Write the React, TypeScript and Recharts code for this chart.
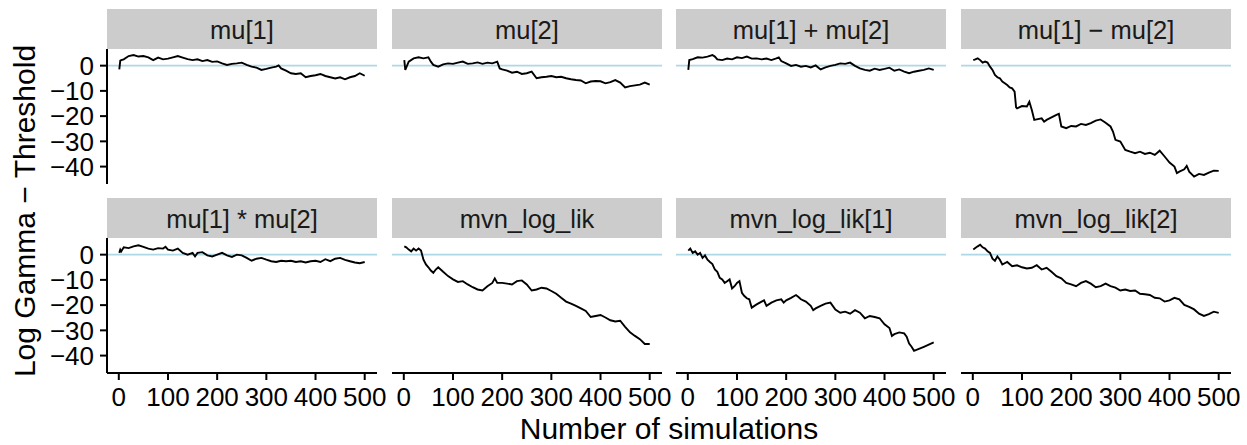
import { LineChart, Line, XAxis, YAxis, ReferenceLine } from 'recharts';

// simulation index, log gamma minus threshold
const mu1: [number, number][] = [
  [1, -1.5], [3, 2.0], [5, 2.2], [10, 2.5], [20, 3.8], [30, 4.2], [40, 3.6], [50, 3.8], [60, 3.3], [70, 2.2],
  [80, 3.2], [90, 2.5], [100, 2.8], [110, 3.3], [120, 3.8], [130, 3.2], [140, 2.6], [150, 2.2], [160, 2.5],
  [170, 1.8], [180, 2.2], [190, 1.5], [200, 1.7], [210, 0.9], [220, 0.3], [230, 0.7], [240, 0.9], [250, 1.2],
  [260, 0.3], [270, -0.4], [280, -0.8], [290, -1.7], [300, -1.3], [310, -0.8], [320, -0.4], [325, 0.1],
  [330, -1.1], [340, -2.0], [350, -3.0], [360, -3.3], [370, -3.0], [380, -4.6], [390, -4.1], [400, -3.8],
  [410, -3.3], [420, -4.1], [430, -4.6], [440, -5.1], [450, -4.6], [460, -5.4], [470, -4.6], [480, -4.1],
  [490, -3.0], [500, -4.0],
];

const mu2: [number, number][] = [
  [1, 2.2], [3, -1.7], [10, 1.6], [20, 2.9], [30, 3.3], [40, 2.9], [50, 3.3], [55, 1.6], [60, 0.3], [70, -0.4],
  [80, 0.5], [90, 0.9], [100, 0.7], [110, 1.2], [120, 1.6], [130, 0.7], [140, 0.9], [150, 1.3], [160, 0.7],
  [170, 1.2], [180, 0.9], [190, 1.6], [195, -1.1], [200, -1.5], [210, -2.0], [220, -2.8], [230, -2.4],
  [240, -3.3], [250, -3.0], [260, -2.4], [270, -5.0], [280, -4.6], [290, -4.4], [300, -4.1], [310, -4.6],
  [320, -4.4], [330, -5.0], [340, -5.4], [350, -5.7], [360, -5.9], [370, -7.0], [380, -6.3], [390, -6.1],
  [400, -6.2], [410, -7.0], [420, -6.5], [430, -5.7], [440, -6.7], [450, -8.6], [460, -8.1], [470, -7.8],
  [480, -7.5], [490, -6.7], [500, -7.5],
];

const muSum: [number, number][] = [
  [1, -1.7], [3, 2.2], [10, 2.6], [20, 3.3], [30, 3.2], [40, 3.6], [50, 4.2], [55, 3.6], [60, 2.5], [70, 2.2],
  [80, 2.8], [90, 2.5], [100, 3.3], [110, 3.0], [120, 3.6], [130, 2.8], [140, 2.9], [150, 2.5], [160, 2.8],
  [170, 2.2], [180, 2.9], [185, 3.3], [190, 1.8], [200, 0.9], [210, -0.1], [220, 0.3], [230, -0.4], [240, -0.1],
  [250, -0.7], [260, 0.1], [270, -1.5], [280, -0.7], [290, -0.1], [300, 0.3], [310, 0.9], [320, 0.7],
  [330, 1.2], [340, -0.1], [350, -1.1], [360, -1.7], [370, -2.0], [380, -1.2], [390, -1.7], [400, -1.3],
  [410, -0.8], [420, -2.0], [430, -1.5], [440, -2.4], [450, -3.0], [460, -2.4], [470, -2.0], [480, -1.7],
  [490, -1.1], [500, -1.7],
];

const muDiff: [number, number][] = [
  [1, 2.2], [5, 2.5], [10, 2.9], [15, 2.2], [20, 1.2], [25, 1.6], [30, 1.2], [35, -0.4], [40, -1.7], [45, -3.7],
  [50, -4.6], [55, -5.0], [60, -6.3], [65, -7.0], [70, -7.7], [75, -8.6], [80, -9.0], [85, -10.3], [88, -16.5],
  [90, -16.9], [100, -16.0], [110, -16.2], [115, -14.3], [120, -17.6], [125, -21.5], [130, -21.3], [140, -20.9],
  [145, -22.2], [150, -21.5], [160, -20.5], [170, -19.5], [175, -19.1], [180, -24.1], [190, -24.8], [200, -23.9],
  [210, -24.1], [220, -23.1], [230, -23.5], [240, -22.8], [250, -21.8], [260, -21.3], [270, -22.6], [280, -24.1],
  [285, -26.1], [290, -29.4], [300, -30.1], [310, -33.4], [320, -34.1], [330, -34.7], [340, -34.1], [350, -35.0],
  [360, -34.5], [370, -35.4], [380, -33.7], [390, -36.0], [400, -38.4], [410, -40.0], [415, -42.6], [420, -42.0],
  [430, -41.1], [435, -39.7], [440, -42.0], [450, -44.0], [460, -42.9], [470, -43.3], [480, -42.4], [490, -41.6],
  [500, -41.7],
];

const muProd: [number, number][] = [
  [1, 0.7], [3, 2.0], [5, 1.3], [10, 2.9], [20, 2.6], [30, 3.3], [40, 3.7], [50, 3.1], [60, 2.4], [70, 2.0],
  [80, 2.6], [90, 2.4], [95, 3.1], [100, 2.0], [110, 1.6], [120, 2.4], [130, 0.7], [140, 0.0], [150, 0.7],
  [155, -0.7], [160, 0.7], [170, 1.0], [180, -0.3], [190, -0.7], [200, 0.0], [210, 0.7], [220, -0.3], [230, -0.9],
  [240, 0.0], [250, -0.3], [260, -1.3], [270, -2.4], [280, -1.6], [290, -1.3], [300, -2.0], [310, -2.6],
  [320, -2.9], [330, -2.4], [340, -2.6], [350, -2.4], [360, -2.9], [370, -2.6], [380, -3.1], [390, -2.6],
  [400, -2.4], [410, -2.9], [420, -1.8], [430, -2.6], [440, -1.6], [450, -1.3], [460, -2.1], [470, -2.6],
  [480, -3.1], [490, -3.4], [500, -2.9],
];

const mvnLogLik: [number, number][] = [
  [1, 3.3], [5, 2.9], [10, 2.0], [15, 1.3], [20, 2.4], [25, 1.6], [30, 2.4], [35, 1.6], [40, -2.0], [45, -3.9],
  [50, -5.0], [55, -6.3], [60, -7.2], [65, -5.9], [70, -5.0], [80, -6.8], [90, -8.5], [100, -9.8], [110, -10.8],
  [120, -10.5], [130, -11.8], [140, -12.9], [150, -13.8], [160, -14.2], [170, -12.5], [180, -11.2], [185, -9.4],
  [190, -11.2], [200, -11.2], [210, -11.5], [220, -11.8], [230, -10.5], [240, -10.2], [250, -11.8], [260, -14.2],
  [270, -13.8], [280, -13.1], [290, -13.4], [300, -14.4], [310, -15.5], [320, -17.1], [330, -18.6], [340, -19.4],
  [350, -20.3], [360, -21.3], [370, -22.3], [380, -24.7], [390, -24.3], [400, -23.9], [410, -24.9], [420, -26.0],
  [430, -26.5], [440, -26.2], [450, -28.6], [460, -30.8], [470, -32.2], [480, -33.5], [490, -35.4], [500, -35.4],
];

const mvnLogLik1: [number, number][] = [
  [1, 1.6], [5, 2.4], [10, 0.7], [15, 1.3], [20, 0.0], [25, 0.7], [30, -1.3], [35, -0.3], [40, -2.0], [45, -2.9],
  [50, -3.7], [55, -5.9], [60, -6.8], [65, -9.2], [70, -9.8], [75, -11.2], [80, -10.5], [85, -9.8], [90, -13.4],
  [95, -12.5], [100, -11.2], [105, -10.5], [110, -15.1], [115, -16.4], [120, -17.3], [125, -17.7], [130, -21.0],
  [140, -19.7], [150, -18.6], [155, -18.1], [160, -20.3], [170, -19.0], [180, -18.1], [190, -17.7], [195, -19.0],
  [200, -18.1], [210, -17.1], [220, -16.0], [225, -16.8], [230, -17.7], [240, -18.6], [250, -20.3], [255, -22.0],
  [260, -21.3], [270, -20.3], [280, -19.4], [290, -19.0], [300, -21.8], [310, -23.0], [320, -22.6], [330, -23.4],
  [340, -22.0], [350, -23.0], [360, -25.2], [370, -24.3], [380, -24.7], [390, -25.2], [400, -27.6], [410, -29.1],
  [415, -32.2], [420, -31.5], [430, -30.8], [440, -31.2], [445, -32.5], [450, -35.2], [455, -36.5], [460, -38.1],
  [480, -36.5], [500, -34.8],
];

const mvnLogLik2: [number, number][] = [
  [1, 2.0], [5, 2.6], [10, 3.3], [15, 3.9], [20, 2.9], [25, 2.4], [30, 1.3], [35, 0.7], [40, -1.6], [45, -2.4],
  [50, -0.7], [55, -2.0], [60, -3.9], [70, -2.9], [80, -4.6], [90, -4.2], [100, -5.0], [110, -5.5], [120, -5.2],
  [130, -4.2], [140, -5.9], [150, -5.2], [160, -6.8], [170, -8.5], [180, -9.4], [190, -11.2], [200, -11.8],
  [210, -12.5], [220, -11.2], [230, -10.5], [240, -11.5], [250, -12.9], [260, -12.5], [270, -11.5], [280, -12.5],
  [290, -13.1], [300, -14.2], [310, -13.8], [320, -14.4], [330, -14.2], [340, -15.5], [350, -15.7], [360, -16.0],
  [370, -17.1], [380, -17.3], [390, -18.6], [400, -18.1], [410, -17.1], [420, -17.7], [430, -19.9], [440, -20.7],
  [450, -21.7], [460, -23.4], [470, -24.3], [480, -23.6], [490, -22.6], [500, -23.1],
];

const panelTitles = [
  'mu[1]', 'mu[2]', 'mu[1] + mu[2]', 'mu[1] − mu[2]',
  'mu[1] * mu[2]', 'mvn_log_lik', 'mvn_log_lik[1]', 'mvn_log_lik[2]',
];
const panelSeries = [mu1, mu2, muSum, muDiff, muProd, mvnLogLik, mvnLogLik1, mvnLogLik2];

const xTicks = [0, 100, 200, 300, 400, 500];
const yTicks = [0, -10, -20, -30, -40];

const W = 1247;
const H = 445;
const colLeft = [107, 392, 676, 961];
const stripTop = [9, 198];
const panelW = 270;
const stripH = 40;
const plotH = 135;
const yAxisW = 107;
const xAxisH = 60;
const padR = 24; // room for the "500" label that hangs past the panel edge
const FONT = '"Liberation Sans", Arial, Helvetica, sans-serif';

const fmt = (v: number) => (v < 0 ? `\u2212${Math.abs(v)}` : `${v}`);

function Panel({ idx }: { idx: number }) {
  const row = Math.floor(idx / 4);
  const col = idx % 4;
  const showY = col === 0;
  const showX = row === 1;
  const data = panelSeries[idx].map(([sim, value]) => ({ sim, value }));
  const left = colLeft[col] - (showY ? yAxisW : 0);
  const top = stripTop[row] + stripH;
  const w = panelW + (showY ? yAxisW : 0) + padR;
  const h = plotH + (showX ? xAxisH : 0);

  return (
    <div style={{ position: 'absolute', left, top, width: w, height: h }}>
      <LineChart width={w} height={h} data={data} margin={{ top: 0, right: padR, bottom: 0, left: 0 }}>
        <XAxis
          dataKey="sim"
          type="number"
          domain={[-24, 525]}
          ticks={xTicks}
          interval={0}
          allowDataOverflow
          hide={!showX}
          height={xAxisH}
          axisLine={{ stroke: '#000', strokeWidth: 2 }}
          tickLine={{ stroke: '#000', strokeWidth: 2 }}
          tickSize={7}
          tickMargin={8}
          tick={{ fill: '#000', fontSize: 26 }}
        />
        <YAxis
          type="number"
          domain={[-46.9, 6.6]}
          ticks={yTicks}
          interval={0}
          allowDataOverflow
          hide={!showY}
          width={yAxisW}
          axisLine={{ stroke: '#000', strokeWidth: 2 }}
          tickLine={{ stroke: '#000', strokeWidth: 2 }}
          tickSize={7}
          tickMargin={6}
          tickFormatter={fmt}
          tick={{ fill: '#000', fontSize: 26 }}
        />
        <ReferenceLine y={0} stroke="#ADD8E6" strokeWidth={1.8} />
        <Line
          type="linear"
          dataKey="value"
          stroke="#000"
          strokeWidth={1.9}
          dot={false}
          isAnimationActive={false}
        />
      </LineChart>
    </div>
  );
}

export default function App() {
  return (
    <div
      style={{
        position: 'absolute',
        left: 0,
        top: 0,
        width: W,
        height: H,
        background: '#fff',
        fontFamily: FONT,
        overflow: 'hidden',
      }}
    >
      <svg width={W} height={H} style={{ position: 'absolute', left: 0, top: 0 }}>
        {panelTitles.map((t, i) => {
          const row = Math.floor(i / 4);
          const col = i % 4;
          return (
            <g key={t}>
              <rect x={colLeft[col]} y={stripTop[row]} width={panelW} height={stripH} fill="#CCCCCC" />
              <text
                x={colLeft[col] + panelW / 2}
                y={stripTop[row] + 29.5}
                textAnchor="middle"
                fontSize={25.5}
                fill="#1A1A1A"
                fontFamily={FONT}
              >
                {t}
              </text>
            </g>
          );
        })}
        <text
          x={35}
          y={211}
          transform="rotate(-90 35 211)"
          textAnchor="middle"
          fontSize={30}
          fill="#000"
          fontFamily={FONT}
        >
          Log Gamma − Threshold
        </text>
        <text x={669} y={439} textAnchor="middle" fontSize={30} fill="#000" fontFamily={FONT}>
          Number of simulations
        </text>
      </svg>
      {panelTitles.map((t, i) => (
        <Panel key={t} idx={i} />
      ))}
    </div>
  );
}
